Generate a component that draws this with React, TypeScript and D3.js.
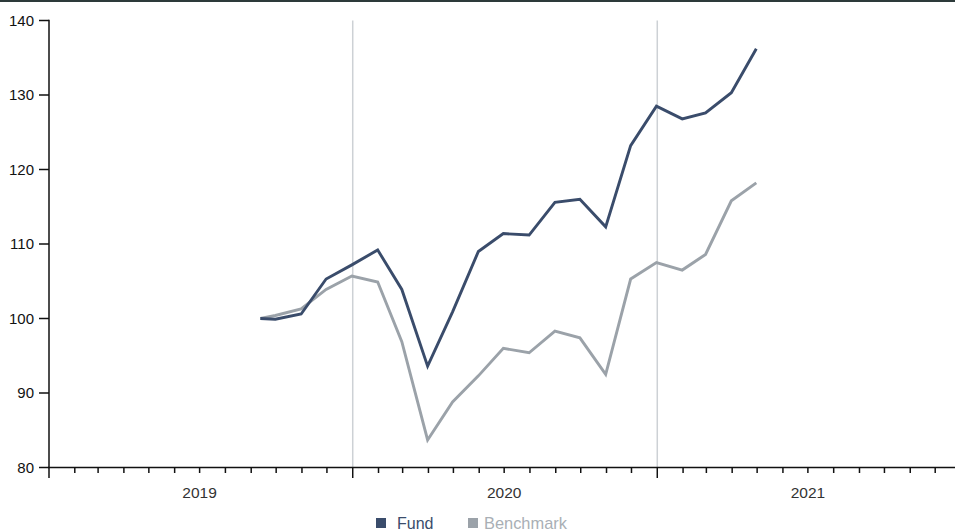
import React from "react";
import * as d3 from "d3";

const dates: string[] = [
  "2019-09-12", "2019-09-30", "2019-10-31", "2019-11-30", "2019-12-31",
  "2020-01-31", "2020-02-29", "2020-03-31", "2020-04-30", "2020-05-31",
  "2020-06-30", "2020-07-31", "2020-08-31", "2020-09-30", "2020-10-31",
  "2020-11-30", "2020-12-31", "2021-01-31", "2021-02-28", "2021-03-31",
  "2021-04-30",
];
const fundValues: number[] = [
  100.0, 99.9, 100.6, 105.3, 107.2, 109.2, 103.9, 93.6, 100.9, 109.0,
  111.4, 111.2, 115.6, 116.0, 112.3, 123.2, 128.5, 126.8, 127.6, 130.3, 136.2,
];
const benchmarkValues: number[] = [
  100.0, 100.4, 101.3, 103.9, 105.7, 104.9, 96.9, 83.7, 88.8, 92.3,
  96.0, 95.4, 98.3, 97.4, 92.5, 105.3, 107.5, 106.5, 108.6, 115.8, 118.2,
];
const yTicks: number[] = [80, 90, 100, 110, 120, 130, 140];
const yearLabels: string[] = ["2019", "2020", "2021"];
const seriesNames: string[] = ["Fund", "Benchmark"];

const FUND_COLOR = "#3a4c6b";
const BENCH_COLOR = "#9ba2a9";
const FONT = "'Liberation Sans', Arial, sans-serif";

function parse(s: string): Date {
  const [y, m, d] = s.split("-").map(Number);
  return new Date(y, m - 1, d);
}

export default function App() {
  const W = 955;
  const H = 532;
  const start = new Date(2019, 0, 1);
  const end = new Date(2022, 0, 1);
  const x = d3.scaleTime().domain([start, end]).range([49, 961]);
  const y = d3.scaleLinear().domain([80, 140]).range([467.5, 20.5]);

  const months = d3.timeMonth.range(start, end);
  const years = d3.timeYear.range(start, end);

  const line = d3
    .line<[Date, number]>()
    .x((d) => x(d[0]))
    .y((d) => y(d[1]));

  const fundPts: [Date, number][] = dates.map((s, i) => [parse(s), fundValues[i]]);
  const benchPts: [Date, number][] = dates.map((s, i) => [parse(s), benchmarkValues[i]]);

  return (
    <svg
      width={W}
      height={H}
      style={{ position: "absolute", left: 0, top: 0, fontFamily: FONT }}
    >
      <rect x={0} y={0} width={W} height={2} fill="#2d3a3a" />
      {years.slice(1).map((d, i) => (
        <line
          key={"g" + i}
          x1={x(d)}
          x2={x(d)}
          y1={y(140)}
          y2={y(80)}
          stroke="#cdd1d5"
          strokeWidth={1.5}
        />
      ))}
      {/* y axis */}
      <line x1={49} x2={49} y1={y(140) - 0.75} y2={y(80)} stroke="#111" strokeWidth={1.5} />
      {yTicks.map((t) => (
        <g key={"y" + t}>
          <line x1={39} x2={49} y1={y(t)} y2={y(t)} stroke="#111" strokeWidth={1.5} />
          <text
            x={34}
            y={y(t)}
            dy="0.35em"
            textAnchor="end"
            fontSize={15}
            fill="#111"
          >
            {t}
          </text>
        </g>
      ))}
      {/* x axis */}
      <line x1={48} x2={W} y1={y(80)} y2={y(80)} stroke="#111" strokeWidth={1.5} />
      {months.map((d, i) => {
        const major = d.getMonth() === 0;
        return (
          <line
            key={"m" + i}
            x1={x(d)}
            x2={x(d)}
            y1={y(80)}
            y2={y(80) + (major ? 10.5 : 5.5)}
            stroke="#111"
            strokeWidth={1.5}
          />
        );
      })}
      {years.map((d, i) => {
        const mid = new Date(d.getFullYear(), 6, 1);
        return (
          <text
            key={"yl" + i}
            x={x(mid)}
            y={498}
            textAnchor="middle"
            fontSize={15.5}
            fill="#333"
          >
            {yearLabels[i]}
          </text>
        );
      })}
      <path d={line(benchPts) || ""} fill="none" stroke={BENCH_COLOR} strokeWidth={2.9} strokeLinejoin="miter" />
      <path d={line(fundPts) || ""} fill="none" stroke={FUND_COLOR} strokeWidth={2.9} strokeLinejoin="miter" />
      {/* legend */}
      <rect x={376} y={518} width={10} height={10} fill={FUND_COLOR} />
      <text x={397} y={529} fontSize={16} fill={FUND_COLOR}>
        {seriesNames[0]}
      </text>
      <rect x={468} y={518} width={10} height={10} fill={BENCH_COLOR} />
      <text x={484} y={529} fontSize={16.4} fill="#a9afb5">
        {seriesNames[1]}
      </text>
    </svg>
  );
}
